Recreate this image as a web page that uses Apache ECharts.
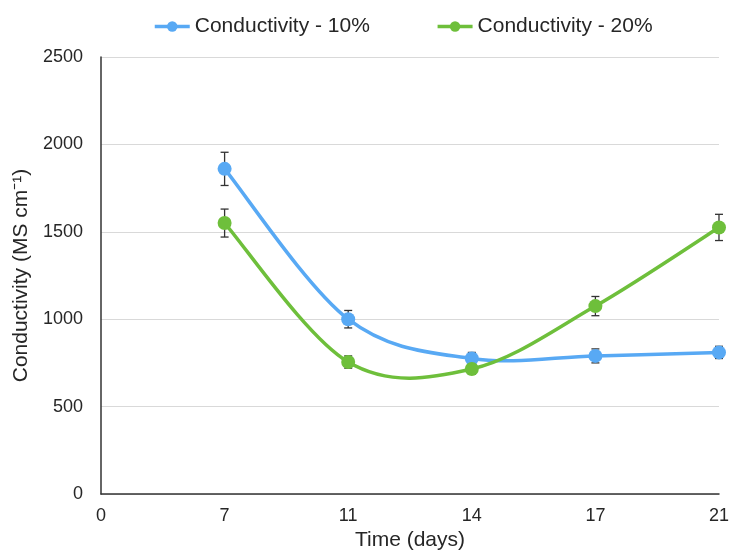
<!DOCTYPE html>
<html>
<head>
<meta charset="utf-8">
<script src="https://cdn.jsdelivr.net/npm/echarts@6/dist/echarts.min.js"></script>
<style>html,body{margin:0;padding:0;background:#fff;}#chart{width:732px;height:559px;}</style>
</head>
<body>
<div id="chart"></div>
<script>
var days = ['0', '7', '11', '14', '17', '21'];
var cond10 = [null, 1860, 1000, 775, 790, 810];
var cond10Err = [null, 95, 50, 35, 40, 35];
var cond20 = [null, 1550, 755, 715, 1075, 1525];
var cond20Err = [null, 80, 35, 30, 55, 75];
var yTicks = [0, 500, 1000, 1500, 2000, 2500];

var blue = '#58a9f4';
var green = '#6ebf3b';
var textColor = '#262626';
var font = '"Liberation Sans", Arial, sans-serif';

function errData(vals, errs) {
  var out = [];
  for (var i = 0; i < vals.length; i++) {
    if (vals[i] != null) out.push([i, vals[i] - errs[i], vals[i] + errs[i]]);
  }
  return out;
}
function errRender(params, api) {
  var x = api.value(0);
  var lo = api.coord([x, api.value(1)]);
  var hi = api.coord([x, api.value(2)]);
  var hw = 4;
  var st = { stroke: '#333', lineWidth: 1.3 };
  return {
    type: 'group',
    children: [
      { type: 'line', shape: { x1: lo[0], y1: lo[1], x2: hi[0], y2: hi[1] }, style: st },
      { type: 'line', shape: { x1: lo[0] - hw, y1: lo[1], x2: lo[0] + hw, y2: lo[1] }, style: st },
      { type: 'line', shape: { x1: hi[0] - hw, y1: hi[1], x2: hi[0] + hw, y2: hi[1] }, style: st }
    ]
  };
}
function pointData(vals) {
  var out = [];
  for (var i = 0; i < vals.length; i++) {
    if (vals[i] != null) out.push([i, vals[i]]);
  }
  return out;
}
// smooth curve (Catmull-Rom style cubic Beziers) through the data points, positioned via the axes
function curveRender(color) {
  return function (params, api) {
    var n = params.dataInsideLength;
    var data = params.context.pts;
    var k = params.dataIndex;
    var pts = params.context.pts;
    if (k >= pts.length - 1) return null;
    var c = function (j) {
      j = Math.max(0, Math.min(pts.length - 1, j));
      return api.coord(pts[j]);
    };
    var p0 = c(k - 1), p1 = c(k), p2 = c(k + 1), p3 = c(k + 2);
    var cp1 = [p1[0] + (p2[0] - p0[0]) / 6, p1[1] + (p2[1] - p0[1]) / 6];
    var cp2 = [p2[0] - (p3[0] - p1[0]) / 6, p2[1] - (p3[1] - p1[1]) / 6];
    return {
      type: 'bezierCurve',
      shape: { x1: p1[0], y1: p1[1], x2: p2[0], y2: p2[1], cpx1: cp1[0], cpy1: cp1[1], cpx2: cp2[0], cpy2: cp2[1] },
      style: { stroke: color, lineWidth: 3.5, fill: null, lineCap: 'round' }
    };
  };
}
function curveSeries(vals, color) {
  var pts = pointData(vals);
  var fn = curveRender(color);
  return {
    type: 'custom',
    data: pts,
    encode: { x: 0, y: 1 },
    z: 2,
    silent: true,
    renderItem: function (params, api) {
      params.context.pts = pts;
      return fn(params, api);
    }
  };
}

var chart = echarts.init(document.getElementById('chart'), null, { renderer: 'canvas' });
chart.setOption({
  animation: false,
  textStyle: { fontFamily: font },
  legend: {
    top: 11,
    left: 148,
    itemWidth: 35,
    itemHeight: 13,
    itemGap: 66,
    textStyle: { fontSize: 21, color: textColor, fontFamily: font },
    data: [
      { name: 'Conductivity - 10%', lineStyle: { color: blue, width: 3.5, opacity: 1 } },
      { name: 'Conductivity - 20%', lineStyle: { color: green, width: 3.5, opacity: 1 } }
    ]
  },
  grid: { left: 101, right: 12, top: 57, bottom: 65 },
  xAxis: {
    type: 'category',
    data: days,
    boundaryGap: false,
    name: 'Time (days)',
    nameLocation: 'middle',
    nameGap: 32,
    nameTextStyle: { fontSize: 21, color: textColor, fontFamily: font },
    axisLine: { lineStyle: { color: '#333', width: 1.5 } },
    axisTick: { show: false },
    axisLabel: { fontSize: 18, color: textColor, margin: 13, fontFamily: font },
    splitLine: { show: false }
  },
  yAxis: {
    type: 'value',
    min: yTicks[0],
    max: yTicks[yTicks.length - 1],
    interval: 500,
    name: 'Conductivity (MS cm\u207B\u00B9)',
    nameLocation: 'middle',
    nameGap: 67,
    nameTextStyle: { fontSize: 21, color: textColor, fontFamily: font },
    axisLine: { show: true, lineStyle: { color: '#333', width: 1.5 } },
    axisTick: { show: false },
    axisLabel: { fontSize: 18, color: textColor, margin: 18, fontFamily: font, formatter: function (v) { return String(v); } },
    splitLine: { lineStyle: { color: '#d9d9d9', width: 1.2 } }
  },
  series: [
    {
      name: 'Conductivity - 10%',
      type: 'line',
      data: cond10,
      symbol: 'circle',
      symbolSize: 14,
      color: blue,
      lineStyle: { width: 3.5, color: blue, opacity: 0 },
      itemStyle: { color: blue },
      z: 4
    },
    {
      name: 'Conductivity - 20%',
      type: 'line',
      data: cond20,
      symbol: 'circle',
      symbolSize: 14,
      color: green,
      lineStyle: { width: 3.5, color: green, opacity: 0 },
      itemStyle: { color: green },
      z: 4
    },
    curveSeries(cond10, blue),
    curveSeries(cond20, green),
    {
      type: 'custom',
      renderItem: errRender,
      data: errData(cond10, cond10Err),
      encode: { x: 0, y: [1, 2] },
      z: 3,
      silent: true
    },
    {
      type: 'custom',
      renderItem: errRender,
      data: errData(cond20, cond20Err),
      encode: { x: 0, y: [1, 2] },
      z: 3,
      silent: true
    }
  ]
});
</script>
</body>
</html>
